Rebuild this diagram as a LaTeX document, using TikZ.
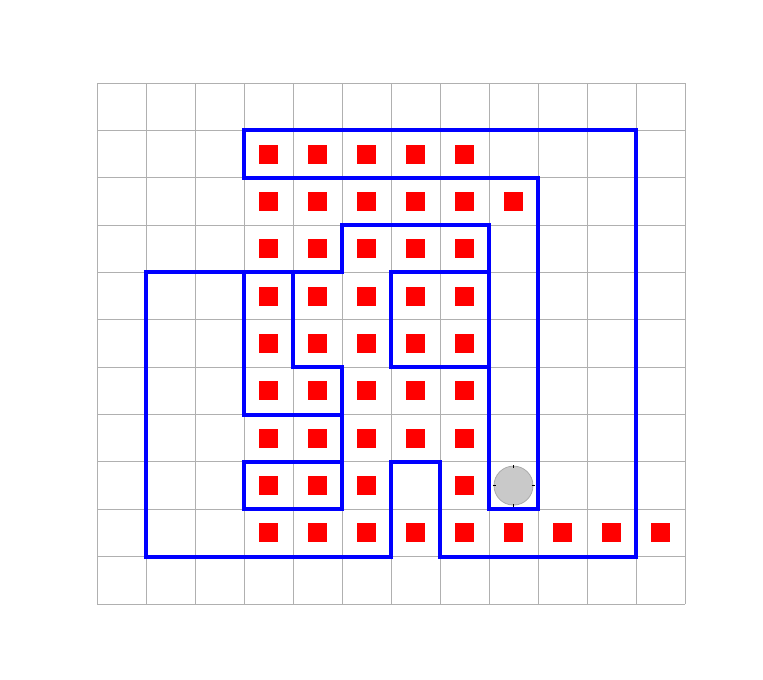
\documentclass[tikz,border=0pt]{standalone}
\definecolor{gridgray}{RGB}{176,176,176}
\definecolor{wallblue}{RGB}{0,0,255}
\definecolor{agentfill}{RGB}{192,192,192}
\definecolor{agentedge}{RGB}{170,170,170}
\begin{document}
\begin{tikzpicture}[x=49pt,y=47.36pt,
  gridline/.style={draw=gridgray,line width=1pt},
  wall/.style={draw=wallblue,line width=4pt,line cap=rect,line join=miter},
  food/.style={fill=red},
  tick/.style={draw=black,line width=1pt}]
\useasboundingbox (-1.9796,-1.6047) rectangle (13.5918,12.7534);
% grid
\foreach \i in {0,...,12} {\draw[gridline] (\i,0) -- (\i,11);}
\foreach \j in {0,...,11} {\draw[gridline] (0,\j) -- (12,\j);}
% red squares
\foreach \r/\cols in {9.5/{3,4,5,6,7},8.5/{3,4,5,6,7,8},7.5/{3,4,5,6,7},6.5/{3,4,5,6,7},5.5/{3,4,5,6,7},4.5/{3,4,5,6,7},3.5/{3,4,5,6,7},2.5/{3,4,5,7},1.5/{3,4,5,6,7,8,9,10,11}}{
  \foreach \c in \cols {
    \fill[food] (\c+0.5,\r) +(-9.5pt,-9.5pt) rectangle +(9.5pt,9.5pt);
  }
}
% blue walls
\draw[wall] (3,9) -- (3,10) -- (11,10) -- (11,1) -- (7,1) -- (7,3) -- (6,3) -- (6,1) -- (1,1) -- (1,7) -- (4,7);
\draw[wall] (3,9) -- (9,9) -- (9,2) -- (8,2) -- (8,8) -- (5,8) -- (5,7) -- (4,7) -- (4,5) -- (5,5) -- (5,2) -- (3,2) -- (3,3) -- (5,3);
\draw[wall] (3,7) -- (3,4) -- (5,4);
\draw[wall] (8,7) -- (6,7) -- (6,5) -- (8,5);
% agent
\coordinate (agent) at (8.5,2.5);
\fill[agentfill,opacity=0.85] (agent) circle (19.5pt);
\draw[agentedge,line width=0.8pt] (agent) circle (19.5pt);
\draw[tick] (agent) ++(0,19.5pt) ++(0,-1.5pt) -- ++(0,3pt);
\draw[tick] (agent) ++(0,-19.5pt) ++(0,-1.5pt) -- ++(0,3pt);
\draw[tick] (agent) ++(19.5pt,0) ++(-1.5pt,0) -- ++(3pt,0);
\draw[tick] (agent) ++(-19.5pt,0) ++(-1.5pt,0) -- ++(3pt,0);
\end{tikzpicture}
\end{document}
